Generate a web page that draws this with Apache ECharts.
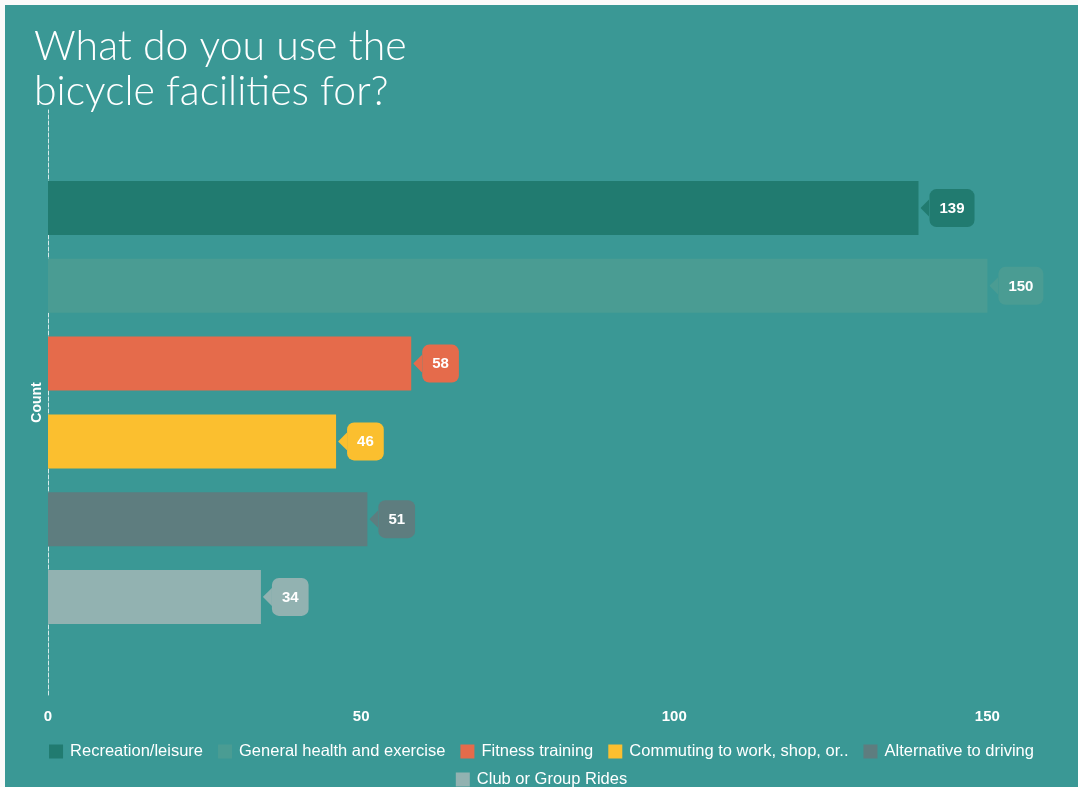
<!DOCTYPE html>
<html>
<head>
<meta charset="utf-8">
<script src="https://cdn.jsdelivr.net/npm/echarts@6/dist/echarts.min.js"></script>
<style>
  html, body { margin: 0; padding: 0; background: #fafafa; }
  #chart { position: absolute; left: 5px; top: 5px; width: 1073px; height: 782px; }
</style>
</head>
<body>
<div id="chart"></div>
<script>
const seriesNames = ['Recreation/leisure', 'General health and exercise', 'Fitness training', 'Commuting to work, shop, or..', 'Alternative to driving', 'Club or Group Rides'];
const seriesValues = [139, 150, 58, 46, 51, 34];
const seriesColors = ['#217b70', '#4a9c93', '#e56b4b', '#fbbf2f', '#5e7d7f', '#92b2b1'];
const xTicks = [0, 50, 100, 150];

function arrowImg(color) {
  const svg = '<svg xmlns="http://www.w3.org/2000/svg" width="9" height="18" viewBox="0 0 9 18"><polygon points="0,9 9,0 9,18" fill="' + color + '"/></svg>';
  return 'data:image/svg+xml;charset=utf-8,' + encodeURIComponent(svg);
}

const chart = echarts.init(document.getElementById('chart'));
const series = seriesNames.map((name, i) => ({
  name: name,
  type: 'bar',
  data: [seriesValues[i]],
  barWidth: 54,
  barGap: '44%',
  itemStyle: { color: seriesColors[i] },
  label: {
    show: true,
    position: 'right',
    distance: 2,
    formatter: '{a|}{b|{c}}',
    rich: {
      a: { width: 9, height: 18, backgroundColor: { image: arrowImg(seriesColors[i]) } },
      b: {
        backgroundColor: seriesColors[i],
        borderRadius: 7,
        padding: [12, 10, 11, 10],
        color: '#ffffff',
        fontWeight: 'bold',
        fontSize: 15,
        fontFamily: 'Liberation Sans, Arial, sans-serif'
      }
    }
  }
}));

const legendCommon = {
  left: 'center',
  itemWidth: 14,
  itemHeight: 14,
  itemGap: 15,
  icon: 'rect',
  textStyle: { color: '#ffffff', fontSize: 16.5, padding: [0, 0, 0, 2], fontFamily: 'Liberation Sans, Arial, sans-serif' }
};

chart.setOption({
  backgroundColor: '#3a9895',
  animation: false,
  title: {
    text: 'What do you use the\nbicycle facilities for?',
    left: 24,
    top: 14,
    textStyle: {
      color: '#ffffff',
      fontSize: 41,
      fontWeight: 300,
      fontFamily: 'Lato, sans-serif',
      lineHeight: 45
    }
  },
  legend: [
    Object.assign({ data: seriesNames.slice(0, 5), top: 733 }, legendCommon),
    Object.assign({ data: seriesNames.slice(5), top: 761 }, legendCommon)
  ],
  grid: { left: 43, right: 28, top: 105, bottom: 92, containLabel: false },
  xAxis: {
    type: 'value',
    min: xTicks[0],
    max: 160,
    interval: xTicks[1] - xTicks[0],
    axisLine: { show: false },
    axisTick: { show: false },
    splitLine: { show: false },
    axisLabel: {
      showMaxLabel: false,
      color: '#ffffff',
      fontWeight: 'bold',
      fontSize: 15,
      margin: 14,
      fontFamily: 'Liberation Sans, Arial, sans-serif'
    }
  },
  yAxis: {
    type: 'category',
    data: ['Count'],
    name: 'Count',
    nameLocation: 'middle',
    nameGap: 4,
    nameTextStyle: { color: '#ffffff', fontWeight: 'bold', fontSize: 14, fontFamily: 'Liberation Sans, Arial, sans-serif' },
    axisLine: { show: true, lineStyle: { color: '#ffffff', type: 'dashed', width: 1, opacity: 0.8 } },
    axisTick: { show: false },
    axisLabel: { show: false },
    splitLine: { show: false }
  },
  series: series
});
</script>
</body>
</html>
